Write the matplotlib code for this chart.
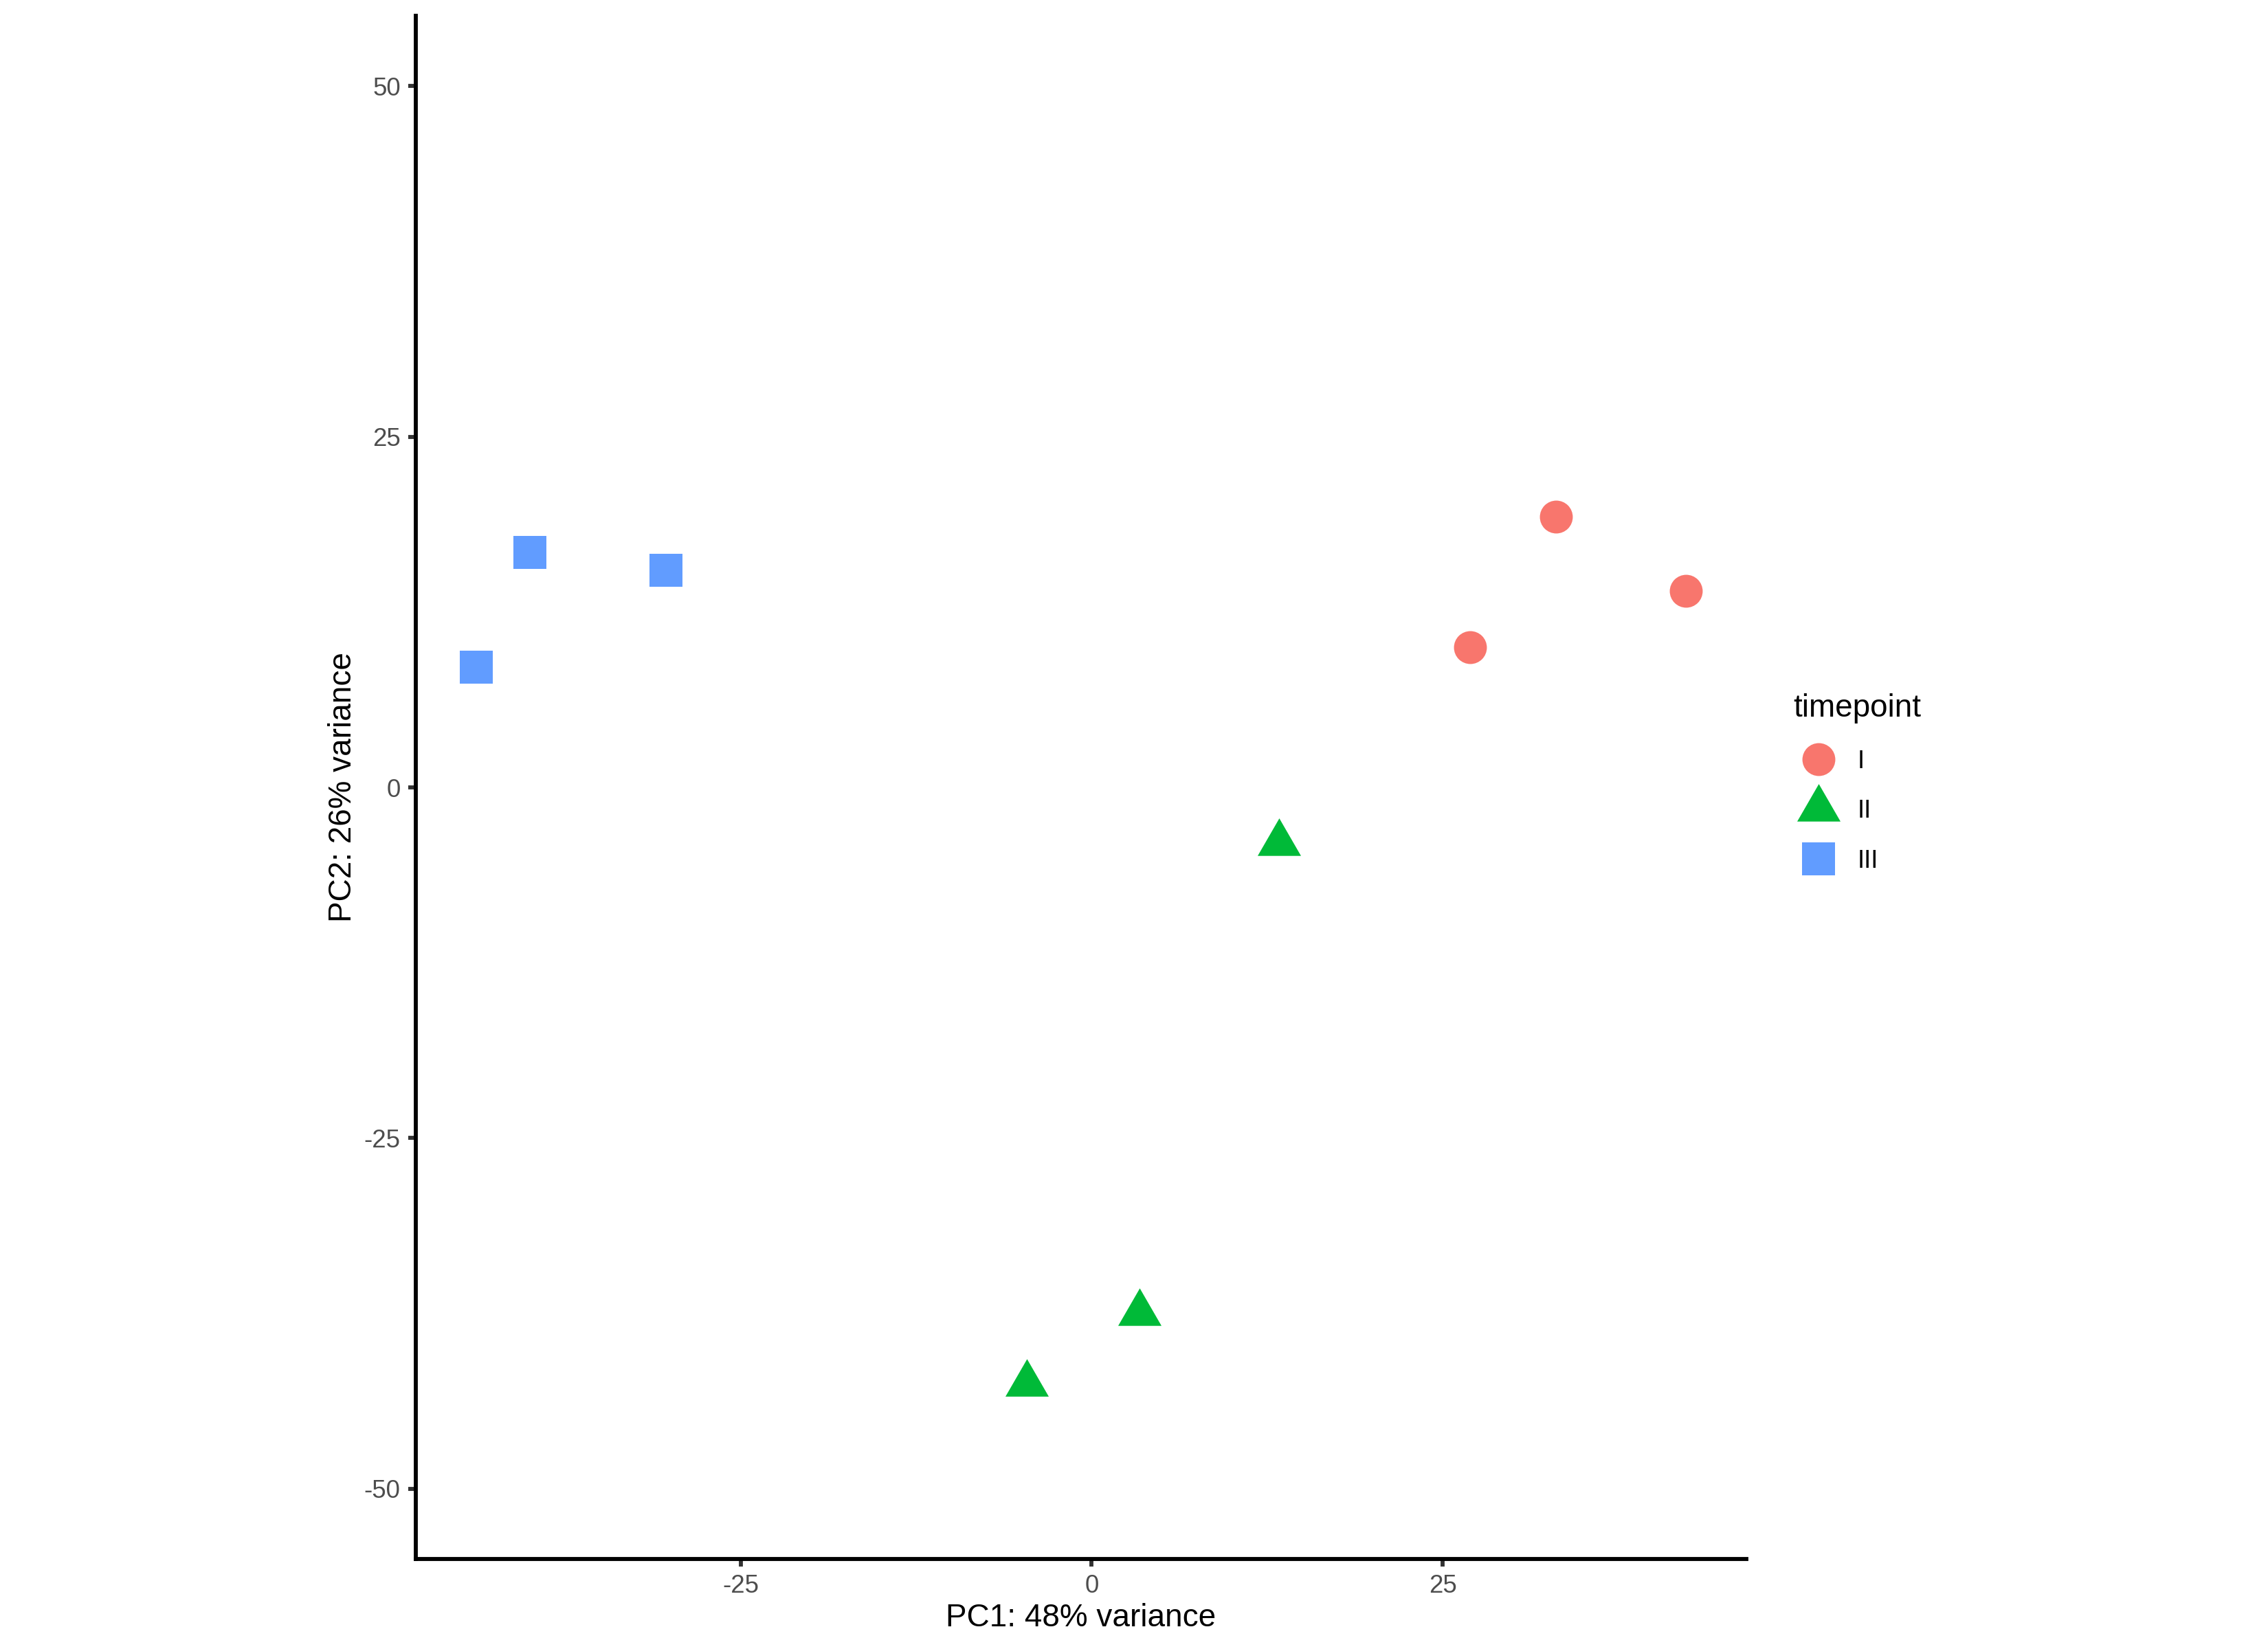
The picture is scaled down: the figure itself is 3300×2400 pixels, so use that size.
import numpy as np
import matplotlib
matplotlib.use("Agg")
import matplotlib.pyplot as plt
from matplotlib.lines import Line2D

plt.rcParams['font.family'] = ['Liberation Sans', 'DejaVu Sans']
plt.rcParams['axes.unicode_minus'] = False

# PCA scores
groups = ['I', 'II', 'III']
pc1_I = [33.05, 42.32, 26.96]
pc2_I = [19.30, 14.02, 9.99]
pc1_II = [13.33, 3.42, -4.61]
pc2_II = [-3.99, -37.48, -42.52]
pc1_III = [-40.02, -30.30, -43.82]
pc2_III = [16.73, 15.46, 8.58]

colors = ['#F8766D', '#00BA38', '#619CFF']
# equilateral triangle centred on its centroid, like R's pch 17
tri = [(0, 1), (-0.866, -0.5), (0.866, -0.5)]
sq = [(-1, -1), (1, -1), (1, 1), (-1, 1)]
markers = ['o', tri, sq]
sizes = [132, 305, 131]

xs = [pc1_I, pc1_II, pc1_III]
ys = [pc2_I, pc2_II, pc2_III]

fig = plt.figure(figsize=(11, 8), dpi=300)
W, H = 3300, 2400
ax = fig.add_axes([605 / W, (H - 2269) / H, (2541 - 605) / W, (2269 - 23) / H])

for x, y, c, m, s in zip(xs, ys, colors, markers, sizes):
    ax.scatter(x, y, c=c, marker=m, s=s, linewidths=0)

allx = np.concatenate(xs)
pad = (allx.max() - allx.min()) * 0.05
ax.set_xlim(allx.min() - pad, allx.max() + pad)
ax.set_ylim(-55, 55)
ax.set_xticks([-25, 0, 25])
ax.set_yticks([-50, -25, 0, 25, 50])

for side in ['top', 'right']:
    ax.spines[side].set_visible(False)
for side in ['left', 'bottom']:
    ax.spines[side].set_linewidth(1.4)
    ax.spines[side].set_color('black')
ax.tick_params(length=2.75, width=1.4, color='#333333', labelcolor='#4D4D4D',
               labelsize=8.8, pad=2.6)

ax.set_xlabel('PC1: 48% variance', fontsize=11, labelpad=1.5)
ax.set_ylabel('PC2: 26% variance', fontsize=11, labelpad=2.0)

handles = [Line2D([], [], linestyle='none', marker=m, color=c, markersize=np.sqrt(s),
                  markeredgewidth=0)
           for m, c, s in zip(markers, colors, sizes)]
leg = ax.legend(handles, groups, title='timepoint', fontsize=8.8, title_fontsize=11,
                frameon=False, loc='upper left',
                bbox_to_anchor=(2591 / W, 1 - 991 / H), bbox_transform=fig.transFigure,
                handlelength=2.0, handletextpad=0.55, labelspacing=1.02,
                borderpad=0, alignment='left')
leg._legend_box.sep = 9

fig.savefig('out.png', dpi=300, facecolor='white')
